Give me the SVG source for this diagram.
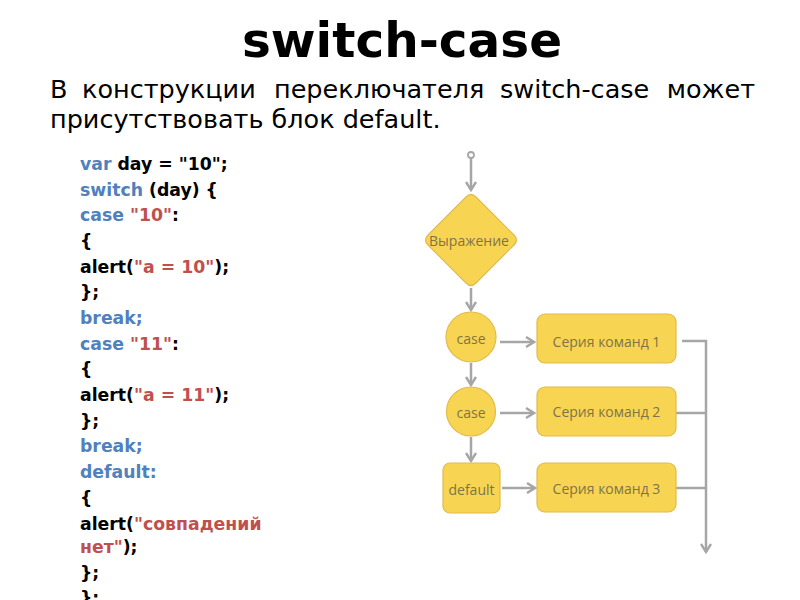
<svg xmlns="http://www.w3.org/2000/svg" width="800" height="600" viewBox="0 0 800 600">
<style>
.title{font-family:"DejaVu Sans",sans-serif;font-weight:bold;font-size:48.5px;fill:#000}
.sub{font-family:"DejaVu Sans",sans-serif;font-size:25.5px;fill:#000}
.code{font-family:"DejaVu Sans",sans-serif;font-weight:bold;font-size:17.3px;fill:#000}
.kw{fill:#4f81bd}
.str{fill:#c0504d}
.shape{fill:#f8d453;stroke:#e0bc4c;stroke-width:1.2}
.lbl{font-family:"Open Sans","DejaVu Sans",sans-serif;font-size:14px;fill:#7f7446;text-anchor:middle;dominant-baseline:central}
.conn{fill:none;stroke:#a6a6a6;stroke-width:2.5}
</style>
<defs>
<marker id="arr" viewBox="0 0 12 12" refX="10" refY="6" markerWidth="12" markerHeight="12" markerUnits="userSpaceOnUse" orient="auto">
<path d="M2,1 L10,6 L2,11" fill="none" stroke="#a6a6a6" stroke-width="2.4"/>
</marker>
</defs>
<rect width="800" height="600" fill="#fff"/>
<text class="title" x="402" y="57" text-anchor="middle">switch-case</text>
<text class="sub" y="98"><tspan x="50">В</tspan><tspan x="82">конструкции</tspan><tspan x="274">переключателя</tspan><tspan x="500">switch-case</tspan></text>
<text class="sub" x="755" y="98" text-anchor="end">может</text>
<text class="sub" x="50" y="128">присутствовать блок default.</text>
<g id="code" class="code">
<text x="80" y="170"><tspan class="kw">var</tspan> day = "10";</text>
<text x="80" y="196"><tspan class="kw">switch</tspan> (day) {</text>
<text x="80" y="221"><tspan class="kw">case</tspan> <tspan class="str">"10"</tspan>:</text>
<text x="80" y="247">{</text>
<text x="80" y="273">alert(<tspan class="str">"a = 10"</tspan>);</text>
<text x="80" y="298">};</text>
<text x="80" y="324" class="kw">break;</text>
<text x="80" y="350"><tspan class="kw">case</tspan> <tspan class="str">"11"</tspan>:</text>
<text x="80" y="375">{</text>
<text x="80" y="401">alert(<tspan class="str">"a = 11"</tspan>);</text>
<text x="80" y="427">};</text>
<text x="80" y="452" class="kw">break;</text>
<text x="80" y="478" class="kw">default:</text>
<text x="80" y="504">{</text>
<text x="80" y="530">alert(<tspan class="str">"совпадений</tspan></text>
<text x="80" y="553"><tspan class="str">нет"</tspan>);</text>
<text x="80" y="579">};</text>
<text x="80" y="604">};</text>
</g>
<g id="connectors">
<circle cx="471" cy="155" r="3" fill="#fff" stroke="#a6a6a6" stroke-width="1.8"/>
<line class="conn" x1="471" y1="158" x2="471" y2="190" marker-end="url(#arr)"/>
<line class="conn" x1="471" y1="288" x2="471" y2="310" marker-end="url(#arr)"/>
<line class="conn" x1="471" y1="363" x2="471" y2="385" marker-end="url(#arr)"/>
<line class="conn" x1="471" y1="437" x2="471" y2="461" marker-end="url(#arr)"/>
<line class="conn" x1="500" y1="342" x2="534" y2="342" marker-end="url(#arr)"/>
<line class="conn" x1="500" y1="413" x2="534" y2="413" marker-end="url(#arr)"/>
<line class="conn" x1="502" y1="488" x2="535" y2="488" marker-end="url(#arr)"/>
<polyline class="conn" points="682,341 706,341 706,552" marker-end="url(#arr)"/>
<line class="conn" x1="676" y1="413" x2="706" y2="413"/>
<line class="conn" x1="676" y1="488" x2="706" y2="488"/>
</g>
<g id="expr">
<path class="shape" d="M466,197 Q471,192 476,197 L514,235 Q519,240 514,245 L476,283 Q471,288 466,283 L428,245 Q423,240 428,235 Z"/>
<text class="lbl" x="469" y="240">Выражение</text>
</g>
<g id="case1">
<circle class="shape" cx="471" cy="337" r="25"/>
<text class="lbl" x="471" y="338">case</text>
</g>
<g id="case2">
<circle class="shape" cx="471" cy="411.5" r="24.5"/>
<text class="lbl" x="471" y="412">case</text>
</g>
<g id="default">
<rect class="shape" x="443" y="463" width="57" height="50" rx="7"/>
<text class="lbl" x="471.5" y="489">default</text>
</g>
<g id="series1">
<rect class="shape" x="537" y="314" width="139" height="49" rx="8"/>
<text class="lbl" x="606.5" y="341">Серия команд 1</text>
</g>
<g id="series2">
<rect class="shape" x="537" y="387" width="139" height="49" rx="8"/>
<text class="lbl" x="606.5" y="411">Серия команд 2</text>
</g>
<g id="series3">
<rect class="shape" x="537" y="463" width="139" height="49" rx="8"/>
<text class="lbl" x="606.5" y="488">Серия команд 3</text>
</g>
</svg>
